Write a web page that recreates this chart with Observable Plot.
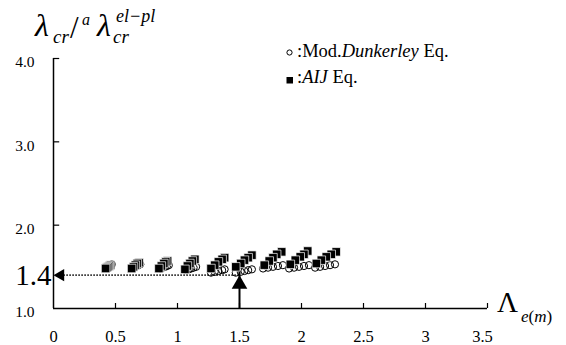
<!DOCTYPE html>
<html><head><meta charset="utf-8">
<script src="https://cdn.jsdelivr.net/npm/d3@7"></script>
<script src="https://cdn.jsdelivr.net/npm/@observablehq/plot@0.6"></script>
<style>body{margin:0;background:#fff} #chart{width:566px;height:345px}
#chart svg text{font-family:'Liberation Serif','Times New Roman',serif !important}</style>
</head><body><div id="chart"></div>
<script>
// AIJ Eq. (filled squares)
const aijX = [0.42,0.43,0.44,0.45,0.46, 0.63,0.645,0.66,0.675,0.69, 0.85,0.87,0.89,0.905,0.92, 1.06,1.08,1.10,1.12,1.14, 1.27,1.30,1.33,1.36,1.38, 1.47,1.51,1.54,1.57,1.60, 1.70,1.74,1.77,1.80,1.84, 1.91,1.95,1.99,2.02,2.05, 2.12,2.16,2.20,2.24,2.28];
const aijY = [1.48,1.49,1.50,1.51,1.52, 1.48,1.50,1.52,1.54,1.55, 1.48,1.51,1.54,1.56,1.57, 1.47,1.51,1.54,1.57,1.59, 1.48,1.52,1.56,1.59,1.61, 1.50,1.54,1.58,1.61,1.64, 1.52,1.57,1.61,1.65,1.68, 1.53,1.58,1.62,1.65,1.69, 1.54,1.58,1.62,1.65,1.68];
// Mod. Dunkerley Eq. (open circles)
const dunkX = [0.43,0.44,0.45,0.46,0.47, 0.64,0.655,0.67,0.685,0.70, 0.86,0.88,0.90,0.915,0.93, 1.07,1.09,1.11,1.13,1.15, 1.27,1.30,1.33,1.36,1.38, 1.47,1.51,1.54,1.57,1.60, 1.69,1.73,1.77,1.81,1.85, 1.90,1.94,1.98,2.02,2.06, 2.11,2.15,2.19,2.23,2.27];
const dunkY = [1.50,1.51,1.52,1.52,1.53, 1.49,1.50,1.51,1.52,1.53, 1.48,1.49,1.50,1.51,1.52, 1.46,1.47,1.48,1.49,1.50, 1.43,1.44,1.45,1.46,1.47, 1.43,1.44,1.45,1.46,1.47, 1.48,1.49,1.50,1.51,1.52, 1.48,1.49,1.50,1.51,1.52, 1.49,1.50,1.51,1.52,1.53];
const xTicks = [0,0.5,1,1.5,2,2.5,3,3.5];
const yTicks = [1,2,3,4];
const refValue = 1.4;
const refX = 1.5;
const refLabel = ["1.4"];
const legendLabels = [":Mod.", "Dunkerley", " Eq.", ":", "AIJ", " Eq."];

// draw the lower-left point of each group last so it sits in front
const aij = aijX.map((x, i) => ({x, y: aijY[i]})).reverse();
const dunk = dunkX.map((x, i) => ({x, y: dunkY[i]}));

const times = "Liberation Serif";

const plot = Plot.plot({
  width: 566, height: 345,
  marginLeft: 53, marginRight: 79, marginTop: 58, marginBottom: 37,
  x: {domain: [0, 3.5], label: null, axis: null},
  y: {domain: [1, 4], label: null, axis: null},
  style: {background: "white", color: "black", fontFamily: times},
  marks: [
    // tick labels
    Plot.text(xTicks.slice(0, -1), {x: d => d, y: 1, text: d => String(d), dy: 28, lineAnchor: "middle", fontSize: 16.5, fontFamily: times}),
    Plot.text(xTicks.slice(-1), {x: d => d, y: 1, text: d => String(d), dy: 28, dx: -5, lineAnchor: "middle", fontSize: 16.5, fontFamily: times}),
    Plot.text(yTicks, {x: 0, y: d => d, text: d3.format(".1f"), dx: -19, dy: 4, textAnchor: "end", lineAnchor: "middle", fontSize: 15.5, fontFamily: times}),
    // axis lines
    Plot.ruleY([1], {x1: 0, x2: 3.5, stroke: "black", strokeWidth: 1.5}),
    Plot.ruleX([0], {y1: 1, y2: 4, stroke: "black", strokeWidth: 1.5}),
    // inward ticks
    Plot.ruleX(xTicks.slice(1), {x: d => d, y1: 1, y2: 1.06, stroke: "black", strokeWidth: 1.2}),
    Plot.ruleY(yTicks.slice(1), {y: d => d, x1: 0, x2: 0.05, stroke: "black", strokeWidth: 1.2}),
    // reference dotted line and arrows
    Plot.ruleY([refValue], {y: d => d, x1: 0.06, x2: refX, stroke: "black", strokeWidth: 1.6, strokeDasharray: "1.3,1.7"}),
    Plot.ruleX([refX], {x: d => d, y1: 1, y2: 1.45, stroke: "black", strokeWidth: 2}),
    Plot.dot([refX], {x: d => d, y: refValue, symbol: "triangle", r: 5.8, fill: "black", stroke: "none", dy: 9}),
    Plot.dot([0], {x: d => d, y: refValue, symbol: "triangle", r: 4.6, fill: "black", stroke: "none", rotate: -90, dx: 7.1}),
    Plot.text(refLabel, {x: 0, y: refValue, text: d => d, textAnchor: "end", lineAnchor: "middle", dx: -2, dy: 1, fontSize: 29, fontFamily: times}),
    // data
    Plot.dot(dunk, {x: "x", y: "y", r: 3.6, fill: "none", stroke: "black", strokeWidth: 1}),
    Plot.dot(aij, {x: "x", y: "y", symbol: "square", r: 4.8, fill: "black", stroke: "white", strokeWidth: 0.7})
  ]
});

document.getElementById("chart").appendChild(plot);
const svg = d3.select(plot);

function addText(x, y, s, size, italic, family) {
  return svg.append("text").attr("x", x).attr("y", y).attr("font-size", size)
    .attr("text-anchor", "start")
    .attr("font-family", family || times).attr("font-style", italic ? "italic" : "normal")
    .attr("fill", "black").text(s);
}

// y-axis title  λcr / aλcr^(el−pl)
addText(35, 36, "λ", 32, true);
addText(53, 43, "cr", 19, true);
addText(70, 38, "/", 31, false);
addText(82, 25, "a", 16, true);
addText(97, 36, "λ", 32, true);
addText(113, 43, "cr", 19, true);
addText(116, 22, "el−pl", 18, true);

// x-axis title Λ e(m)
addText(497, 312, "Λ", 29, false);
const xt = addText(521, 322, "", 17, false);
xt.append("tspan").attr("font-style", "italic").text("e");
xt.append("tspan").text("(");
xt.append("tspan").attr("font-style", "italic").text("m");
xt.append("tspan").text(")");

// legend
svg.append("circle").attr("cx", 289.5).attr("cy", 52.5).attr("r", 2.6).attr("fill", "none").attr("stroke", "black").attr("stroke-width", 1);
svg.append("rect").attr("x", 286.5).attr("y", 77).attr("width", 6.5).attr("height", 6.5).attr("fill", "black");
const l1 = addText(297, 57, "", 18.5, false);
l1.append("tspan").text(legendLabels[0]);
l1.append("tspan").attr("font-style", "italic").text(legendLabels[1]);
l1.append("tspan").text(legendLabels[2]);
const l2 = addText(297, 83, "", 18.5, false);
l2.append("tspan").text(legendLabels[3]);
l2.append("tspan").attr("font-style", "italic").text(legendLabels[4]);
l2.append("tspan").text(legendLabels[5]);
</script>
</body></html>
